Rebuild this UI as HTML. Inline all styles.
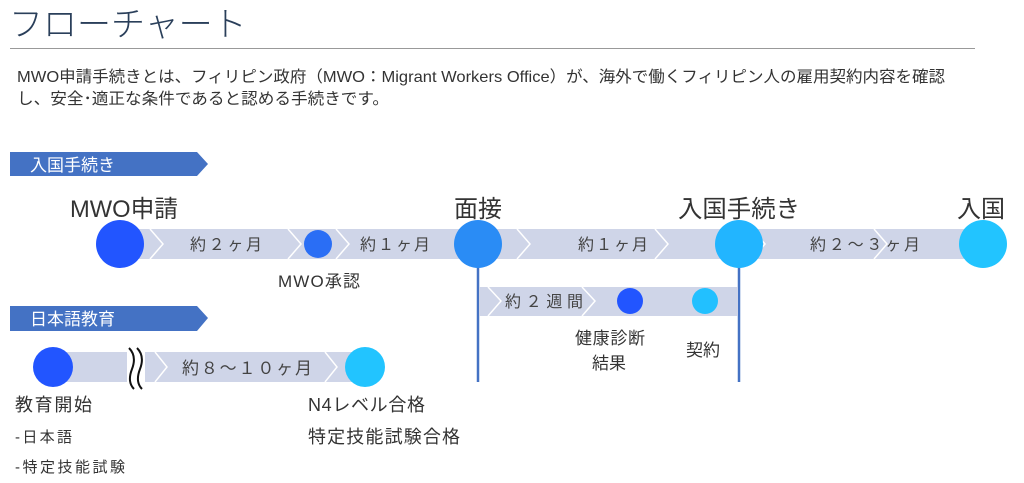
<!DOCTYPE html>
<html><head><meta charset="utf-8"><style>
html,body{margin:0;padding:0;background:#fff;width:1024px;height:483px;overflow:hidden}
svg{display:block}
text{font-family:"Liberation Sans","Noto Sans CJK JP",sans-serif;fill:#333}
</style></head><body>
<svg width="1024" height="483" viewBox="0 0 1024 483" xmlns="http://www.w3.org/2000/svg">
<text x="9" y="36" font-size="34" font-weight="300" style="fill:#2a3f5a">フローチャート</text>
<line x1="10" y1="48.5" x2="975" y2="48.5" stroke="#999" stroke-width="1"/>
<text x="17" y="82" font-size="16" textLength="928" lengthAdjust="spacingAndGlyphs">MWO申請手続きとは、フィリピン政府（MWO：Migrant Workers Office）が、海外で働くフィリピン人の雇用契約内容を確認</text>
<text x="17" y="104" font-size="16" textLength="372" lengthAdjust="spacingAndGlyphs">し、安全･適正な条件であると認める手続きです。</text>

<polygon points="10,152 197,152 208,164 197,176 10,176" fill="#4472c4"/>
<text x="30" y="171" font-size="17" style="fill:#fff">入国手続き</text>

<text x="70" y="217" font-size="24" textLength="108" lengthAdjust="spacingAndGlyphs">MWO申請</text>
<text x="454" y="217" font-size="24">面接</text>
<text x="678" y="217" font-size="24" textLength="122" lengthAdjust="spacingAndGlyphs">入国手続き</text>
<text x="957" y="217" font-size="24">入国</text>

<rect x="120" y="229" width="865" height="30" fill="#cfd5e8"/>
<g fill="none" stroke="#fff" stroke-width="1.5">
<polyline points="150,229 163,244 150,259"/>
<polyline points="288,229 301,244 288,259"/>
<polyline points="336,229 349,244 336,259"/>
<polyline points="517,229 530,244 517,259"/>
<polyline points="655,229 668,244 655,259"/>
<polyline points="752,229 765,244 752,259"/>
<polyline points="874,229 887,244 874,259"/>
</g>
<text x="190" y="250" font-size="16" style="fill:#444" textLength="72">約２ヶ月</text>
<text x="360" y="250" font-size="16" style="fill:#444" textLength="70">約１ヶ月</text>
<text x="578" y="250" font-size="16" style="fill:#444" textLength="70">約１ヶ月</text>
<text x="810" y="250" font-size="16" style="fill:#444" textLength="110">約２～３ヶ月</text>

<line x1="478" y1="262" x2="478" y2="382" stroke="#4472c4" stroke-width="2.5"/>
<line x1="739" y1="262" x2="739" y2="382" stroke="#4472c4" stroke-width="2.5"/>

<rect x="479" y="287" width="259" height="29" fill="#cfd5e8"/>
<g fill="none" stroke="#fff" stroke-width="1.5">
<polyline points="488,287 501,301 488,316"/>
<polyline points="582,287 595,301 582,316"/>
</g>
<text x="505" y="307" font-size="16" style="fill:#444" textLength="78">約２週間</text>
<circle cx="630" cy="301" r="13" fill="#2255ff"/>
<circle cx="705" cy="301" r="13" fill="#22c0ff"/>

<circle cx="120" cy="244" r="24" fill="#2255ff"/>
<circle cx="318" cy="244" r="14" fill="#2a6ef5"/>
<circle cx="478" cy="244" r="24" fill="#2a8cf5"/>
<circle cx="739" cy="244" r="24" fill="#22b5ff"/>
<circle cx="983" cy="244" r="24" fill="#22c4ff"/>

<text x="278" y="287" font-size="17" textLength="82">MWO承認</text>
<text x="575" y="344" font-size="17" textLength="70">健康診断</text>
<text x="592" y="369" font-size="17">結果</text>
<text x="686" y="356" font-size="17">契約</text>

<polygon points="10,306 197,306 208,318 197,331 10,331" fill="#4472c4"/>
<text x="30" y="325" font-size="17" style="fill:#fff">日本語教育</text>

<rect x="53" y="352" width="312" height="30" fill="#cfd5e8"/>
<g fill="none" stroke="#fff" stroke-width="1.5">
<polyline points="155,352 167,367 155,382"/>
<polyline points="325,352 337,367 325,382"/>
</g>
<rect x="127" y="348" width="18" height="42" fill="#fff"/>
<g fill="none" stroke="#111" stroke-width="2">
<path d="M129,348 Q137,356 132,369 Q127,382 134,389"/>
<path d="M137,348 Q145,356 140,369 Q135,382 142,389"/>
</g>
<text x="182" y="374" font-size="17" style="fill:#444" textLength="130">約８～１０ヶ月</text>
<circle cx="53" cy="367" r="20" fill="#2255ff"/>
<circle cx="365" cy="367" r="20" fill="#22c4ff"/>

<text x="15" y="411" font-size="18" textLength="77">教育開始</text>
<text x="15" y="442" font-size="15" textLength="57">-日本語</text>
<text x="15" y="472" font-size="15" textLength="110">-特定技能試験</text>
<text x="308" y="411" font-size="18" textLength="117">N4レベル合格</text>
<text x="308" y="443" font-size="18" textLength="152">特定技能試験合格</text>
</svg>
</body></html>
